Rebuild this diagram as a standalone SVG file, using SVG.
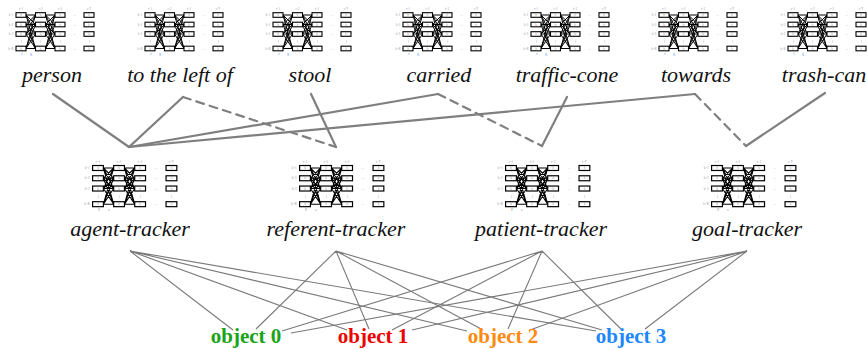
<svg xmlns="http://www.w3.org/2000/svg" xmlns:xlink="http://www.w3.org/1999/xlink" width="867" height="349" viewBox="0 0 867 349">
<style>
.lbl{font-family:"Liberation Serif","Times New Roman",serif;font-style:italic;font-size:22px;fill:#111;text-anchor:middle}
.obj{font-family:"Liberation Serif","Times New Roman",serif;font-weight:bold;font-size:21px;text-anchor:middle}
.tiny{font-family:"Liberation Serif",serif;font-size:3px;fill:#999;text-anchor:middle}
.box{fill:#fff;stroke:#000;stroke-width:1.1}
.lat{fill:none;stroke:#000;stroke-width:1}
.con{fill:none;stroke:#7f7f7f;stroke-width:2.2;stroke-linecap:round}
.dash{stroke-dasharray:8 6}
.thin{fill:none;stroke:#7a7a7a;stroke-width:1.1}
.mk{font-family:"Liberation Serif",serif;font-size:4px;text-anchor:middle}
</style>
<defs>
<g id="net">
<text class="tiny" x="0" y="-5">t=1</text><text class="tiny" x="19.5" y="-5">t=2</text><text class="tiny" x="39" y="-5">t=3</text><text class="tiny" x="68" y="-5">t=T</text>
<text class="tiny" x="-10" y="1">k=1</text><text class="tiny" x="-10" y="10.5">k=2</text><text class="tiny" x="-10" y="20">k=3</text><text class="tiny" x="-10" y="34.5">k=K</text>
<path class="lat" d="M5 0L14.5 0M5 0L14.5 9.5M5 0L14.5 19M5 0L14.5 33.5M5 9.5L14.5 0M5 9.5L14.5 9.5M5 9.5L14.5 19M5 9.5L14.5 33.5M5 19L14.5 0M5 19L14.5 9.5M5 19L14.5 19M5 19L14.5 33.5M5 33.5L14.5 0M5 33.5L14.5 9.5M5 33.5L14.5 19M5 33.5L14.5 33.5M24.5 0L34 0M24.5 0L34 9.5M24.5 0L34 19M24.5 0L34 33.5M24.5 9.5L34 0M24.5 9.5L34 9.5M24.5 9.5L34 19M24.5 9.5L34 33.5M24.5 19L34 0M24.5 19L34 9.5M24.5 19L34 19M24.5 19L34 33.5M24.5 33.5L34 0M24.5 33.5L34 9.5M24.5 33.5L34 19M24.5 33.5L34 33.5"/>
<g id="col">
<rect class="box" x="-5" y="-2.3" width="10" height="4.6"/>
<rect class="box" x="-5" y="7.2" width="10" height="4.6"/>
<rect class="box" x="-5" y="16.7" width="10" height="4.6"/>
<rect class="box" x="-5" y="31.2" width="10" height="4.6"/>
<text class="tiny" x="0" y="1">h</text><text class="tiny" x="0" y="10.5">h</text><text class="tiny" x="0" y="20">h</text><text class="tiny" x="0" y="34.5">h</text>
<text class="tiny" x="0" y="27">⋮</text>
</g>
<use xlink:href="#col" x="19.5"/><use xlink:href="#col" x="39"/><use xlink:href="#col" x="68"/>
<text class="tiny" x="53.5" y="1">…</text><text class="tiny" x="53.5" y="10.5">…</text><text class="tiny" x="53.5" y="20">…</text><text class="tiny" x="53.5" y="34.5">…</text>
</g>
<g id="netTop"><use xlink:href="#net"/><text class="mk" x="1" y="40" fill="#5aa0ff">f</text><text class="mk" x="10" y="40" fill="#5aa0ff">g</text></g>
<g id="netMid"><use xlink:href="#net"/><text class="mk" x="1" y="40" fill="#999">P</text><text class="mk" x="10" y="40" fill="#999">s</text></g>
</defs>

<g id="connectors">
<path class="con" d="M53 94L129 147L183 97"/>
<path class="con dash" d="M183 97L336 147"/>
<path class="con" d="M311 94L336 147"/>
<path class="con" d="M129 147L438 94"/>
<path class="con dash" d="M438 94L542 146"/>
<path class="con" d="M567 97L542 146"/>
<path class="con" d="M129 147L695 94"/>
<path class="con dash" d="M695 94L746 146"/>
<path class="con" d="M825 93L746 146"/>
<path class="thin" d="M130 251L233 330M130 251L347 330M130 251L467 331M130 251L596 331"/>
<path class="thin" d="M336 251L256 329M336 251L369 329M336 251L483 330M336 251L602 330"/>
<path class="thin" d="M542 251L282 331M542 251L392 330M542 251L508 329M542 251L622 330"/>
<path class="thin" d="M747 251L291 333M747 251L412 330M747 251L530 330M747 251L645 329"/>
</g>

<g id="w-person"><use xlink:href="#netTop" transform="translate(21,15)"/><text class="lbl" x="52" y="82">person</text></g>
<g id="w-left-of"><use xlink:href="#netTop" transform="translate(150,15)"/><text class="lbl" x="180" y="82">to the left of</text></g>
<g id="w-stool"><use xlink:href="#netTop" transform="translate(278,15)"/><text class="lbl" x="310" y="82">stool</text></g>
<g id="w-carried"><use xlink:href="#netTop" transform="translate(408,15)"/><text class="lbl" x="439" y="82">carried</text></g>
<g id="w-traffic-cone"><use xlink:href="#netTop" transform="translate(536,15)"/><text class="lbl" x="567" y="82">traffic-cone</text></g>
<g id="w-towards"><use xlink:href="#netTop" transform="translate(664,15)"/><text class="lbl" x="696" y="82">towards</text></g>
<g id="w-trash-can"><use xlink:href="#netTop" transform="translate(793,15)"/><text class="lbl" x="824" y="82">trash-can</text></g>

<g id="agent-tracker"><use xlink:href="#netMid" transform="translate(98,168) scale(1.08)"/><text class="lbl" x="130" y="236">agent-tracker</text></g>
<g id="referent-tracker"><use xlink:href="#netMid" transform="translate(305,168) scale(1.08)"/><text class="lbl" x="336" y="236">referent-tracker</text></g>
<g id="patient-tracker"><use xlink:href="#netMid" transform="translate(511,168) scale(1.08)"/><text class="lbl" x="541" y="236">patient-tracker</text></g>
<g id="goal-tracker"><use xlink:href="#netMid" transform="translate(717,168) scale(1.08)"/><text class="lbl" x="747" y="236">goal-tracker</text></g>

<g id="object0"><text class="obj" x="246" y="343" fill="#18a318">object 0</text></g>
<g id="object1"><text class="obj" x="373" y="343" fill="#ee0000">object 1</text></g>
<g id="object2"><text class="obj" x="503" y="343" fill="#ff8a12">object 2</text></g>
<g id="object3"><text class="obj" x="631" y="343" fill="#1c87ff">object 3</text></g>
</svg>
